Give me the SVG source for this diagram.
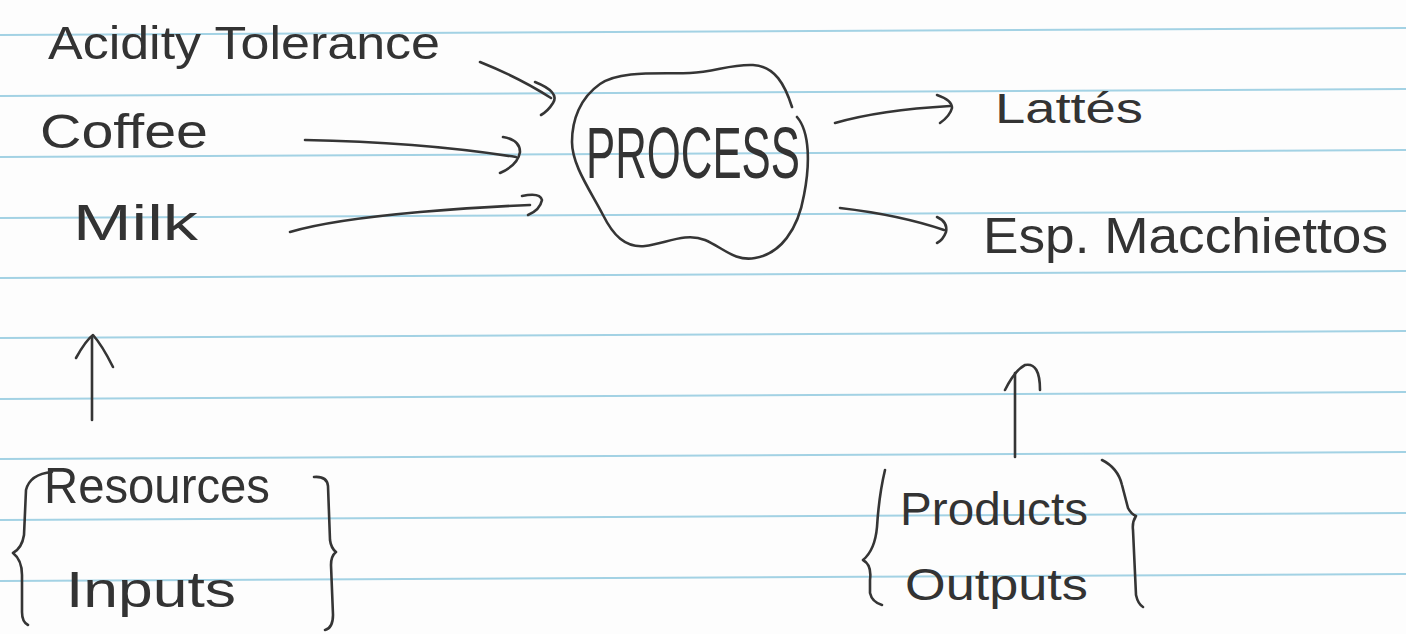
<svg xmlns="http://www.w3.org/2000/svg" width="1406" height="634" viewBox="0 0 1406 634">
  <style>
    .rule { stroke: #a3d2e4; stroke-width: 2; }
    .ink { fill: none; stroke: #353535; stroke-width: 2.6; stroke-linecap: round; stroke-linejoin: round; }
    .txt { font-family: "Liberation Sans", "DejaVu Sans", sans-serif; fill: #333333; }
  </style>
  <rect x="0" y="0" width="1406" height="634" fill="#fdfdfd"/>
  <g id="paper-lines">
    <line class="rule" x1="0" y1="35" x2="1406" y2="28"/>
    <line class="rule" x1="0" y1="96" x2="1406" y2="89"/>
    <line class="rule" x1="0" y1="157" x2="1406" y2="150"/>
    <line class="rule" x1="0" y1="218" x2="1406" y2="211"/>
    <line class="rule" x1="0" y1="278" x2="1406" y2="271"/>
    <line class="rule" x1="0" y1="338" x2="1406" y2="331"/>
    <line class="rule" x1="0" y1="399" x2="1406" y2="392"/>
    <line class="rule" x1="0" y1="459" x2="1406" y2="452"/>
    <line class="rule" x1="0" y1="520" x2="1406" y2="513"/>
    <line class="rule" x1="0" y1="581" x2="1406" y2="574"/>
  </g>

  <g id="acidity">
    <text class="txt" x="48" y="59" font-size="46" textLength="392" lengthAdjust="spacingAndGlyphs">Acidity Tolerance</text>
  </g>
  <g id="coffee">
    <text class="txt" x="40" y="148" font-size="48" textLength="168" lengthAdjust="spacingAndGlyphs">Coffee</text>
  </g>
  <g id="milk">
    <text class="txt" x="73" y="240" font-size="50" textLength="125" lengthAdjust="spacingAndGlyphs">Milk</text>
  </g>

  <g id="process">
    <path class="ink" d="M 792 107 C 785 85, 775 66, 753 65 C 730 64, 715 72, 690 73 C 660 74, 620 70, 600 84 C 580 98, 572 120, 572 142 C 572 165, 590 190, 603 215 C 613 235, 625 248, 645 246 C 665 244, 685 232, 705 240 C 722 247, 735 262, 755 258 C 780 254, 798 230, 804 195 C 810 165, 810 132, 797 117"/>
    <text class="txt" x="586" y="178" font-size="72" textLength="214" lengthAdjust="spacingAndGlyphs">PROCESS</text>
  </g>

  <g id="lattes">
    <text class="txt" x="995" y="123" font-size="42" textLength="148" lengthAdjust="spacingAndGlyphs">Lattés</text>
  </g>
  <g id="macchiettos">
    <text class="txt" x="983" y="253" font-size="50" textLength="405" lengthAdjust="spacingAndGlyphs">Esp. Macchiettos</text>
  </g>

  <g id="inputs">
    <path class="ink" d="M 52 472 Q 30 474 26 490 L 24 535 Q 22 548 13 553 Q 22 560 22 575 L 22 612 Q 22 622 28 625"/>
    <text class="txt" x="44" y="503" font-size="50" textLength="226" lengthAdjust="spacingAndGlyphs">Resources</text>
    <text class="txt" x="66" y="607" font-size="50" textLength="170" lengthAdjust="spacingAndGlyphs">Inputs</text>
    <path class="ink" d="M 314 477 Q 327 476 328 486 L 330 540 Q 331 548 336 552 Q 331 556 331 565 L 333 615 Q 333 628 325 630"/>
  </g>

  <g id="outputs">
    <path class="ink" d="M 885 470 Q 879 495 877 527 Q 875 550 863 560 Q 872 565 870 580 L 870 593 Q 872 602 882 605"/>
    <text class="txt" x="900" y="525" font-size="46" textLength="188" lengthAdjust="spacingAndGlyphs">Products</text>
    <text class="txt" x="905" y="600" font-size="44" textLength="183" lengthAdjust="spacingAndGlyphs">Outputs</text>
    <path class="ink" d="M 1102 460 Q 1118 468 1122 485 L 1128 508 Q 1131 514 1136 516 Q 1132 522 1133 530 L 1136 595 Q 1138 604 1143 607"/>
  </g>

  <g id="connectors">
    <path class="ink" d="M 480 62 Q 520 78 551 98"/>
    <path class="ink" d="M 535 82 Q 560 92 553 103 Q 548 111 541 115"/>
    <path class="ink" d="M 305 140 Q 420 142 516 157"/>
    <path class="ink" d="M 503 137 Q 520 140 520 152 Q 518 165 500 173"/>
    <path class="ink" d="M 290 232 Q 330 220 420 212 Q 480 207 530 205"/>
    <path class="ink" d="M 522 196 Q 540 192 542 200 Q 540 210 528 215"/>
    <path class="ink" d="M 835 123 Q 880 110 950 106"/>
    <path class="ink" d="M 937 95 Q 952 100 952 108 Q 950 116 940 123"/>
    <path class="ink" d="M 840 208 Q 900 215 944 230"/>
    <path class="ink" d="M 937 217 Q 948 222 946 232 Q 943 240 937 243"/>
    <path class="ink" d="M 92 420 L 92 337"/>
    <path class="ink" d="M 76 358 Q 86 340 93 335 Q 102 345 113 367"/>
    <path class="ink" d="M 1015 457 L 1015 373"/>
    <path class="ink" d="M 1005 390 Q 1015 370 1025 365 Q 1040 362 1040 390"/>
  </g>
</svg>
